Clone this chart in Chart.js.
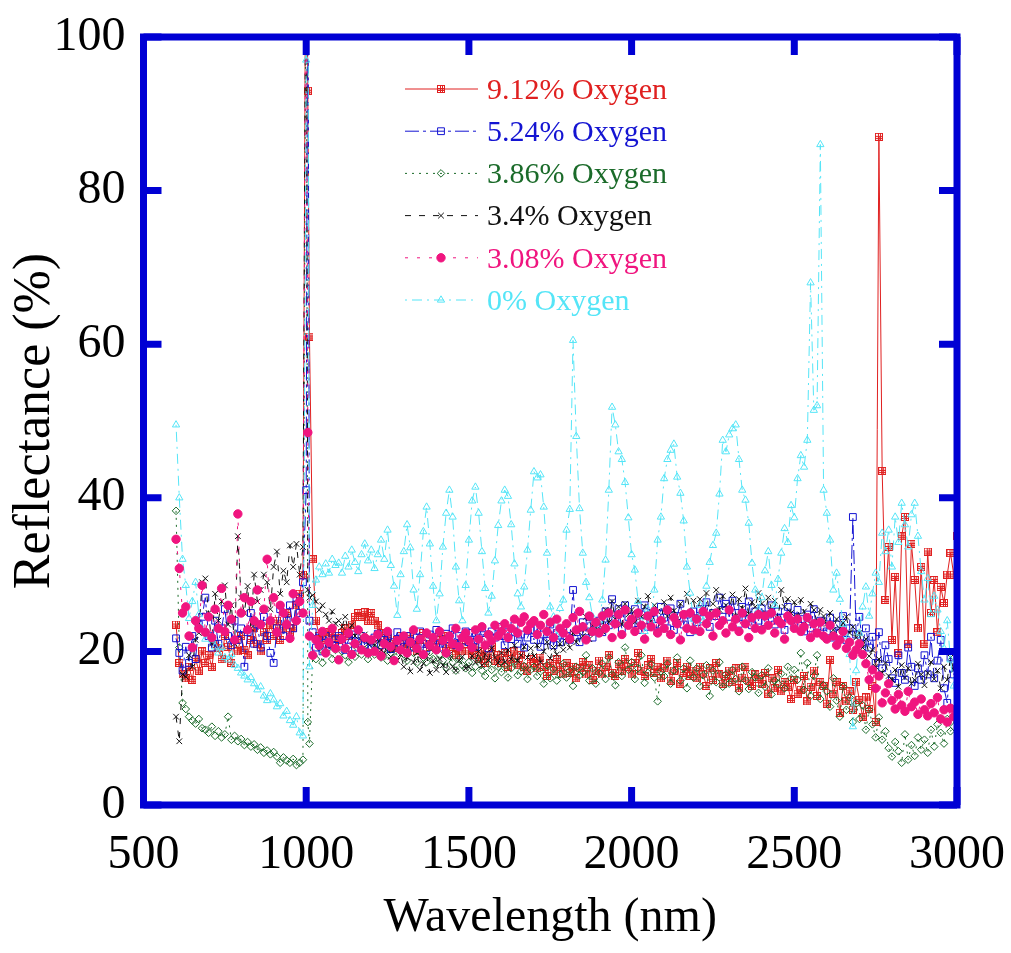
<!DOCTYPE html>
<html>
<head>
<meta charset="utf-8">
<script src="https://cdn.jsdelivr.net/npm/chart.js@4.4.1/dist/chart.umd.min.js"></script>
<style>
  html, body { margin: 0; padding: 0; background: #fff; }
  #wrap { width: 1011px; height: 953px; }
</style>
</head>
<body>
<div id="wrap"><canvas id="reflect-chart" width="1011" height="953"></canvas></div>
<script>
// wavelength grid (nm)
const wavelengths = [
  600, 610, 620, 630, 640, 650, 660, 670, 680, 690,
  700, 710, 720, 730, 740, 750, 760, 770, 780, 790,
  800, 810, 820, 830, 840, 850, 860, 870, 880, 890,
  900, 910, 920, 930, 940, 950, 960, 970, 980, 990,
  1000, 1005, 1010, 1020, 1030, 1040, 1050, 1060, 1070, 1080, 1090,
  1100, 1110, 1120, 1130, 1140, 1150, 1160, 1170, 1180, 1190,
  1200, 1210, 1220, 1230, 1240, 1250, 1260, 1270, 1280, 1290,
  1300, 1310, 1320, 1330, 1340, 1350, 1360, 1370, 1380, 1390,
  1400, 1410, 1420, 1430, 1440, 1450, 1460, 1470, 1480, 1490,
  1500, 1510, 1520, 1530, 1540, 1550, 1560, 1570, 1580, 1590,
  1600, 1610, 1620, 1630, 1640, 1650, 1660, 1670, 1680, 1690,
  1700, 1710, 1720, 1730, 1740, 1750, 1760, 1770, 1780, 1790,
  1800, 1810, 1820, 1830, 1840, 1850, 1860, 1870, 1880, 1890,
  1900, 1910, 1920, 1930, 1940, 1950, 1960, 1970, 1980, 1990,
  2000, 2010, 2020, 2030, 2040, 2050, 2060, 2070, 2080, 2090,
  2100, 2110, 2120, 2130, 2140, 2150, 2160, 2170, 2180, 2190,
  2200, 2210, 2220, 2230, 2240, 2250, 2260, 2270, 2280, 2290,
  2300, 2310, 2320, 2330, 2340, 2350, 2360, 2370, 2380, 2390,
  2400, 2410, 2420, 2430, 2440, 2450, 2460, 2470, 2480, 2490,
  2500, 2510, 2520, 2530, 2540, 2550, 2560, 2570, 2580, 2590,
  2600, 2610, 2620, 2630, 2640, 2650, 2660, 2670, 2680, 2690,
  2700, 2710, 2720, 2730, 2740, 2750, 2760, 2770, 2780, 2790,
  2800, 2810, 2820, 2830, 2840, 2850, 2860, 2870, 2880, 2890,
  2900, 2910, 2920, 2930, 2940, 2950, 2960, 2970, 2980, 2990,
  3000
];

// reflectance (%) per oxygen content
const oxy912 = [
  23.5, 18.5, 17, 16.5, 18, 16.3, 19, 17.5, 20, 18.5,
  19.5, 18, 21, 20.5, 19, 22, 20.6, 18.5, 21.5, 20,
  22, 20.2, 19.5, 21.5, 23, 21, 20, 22.5, 21.5, 23.5,
  22, 24, 21.5, 23, 25, 22.5, 23, 26, 27.5, 30,
  130, 93, 61, 32, 24, 22, 21.5, 22.5, 21, 22.4, 21.8,
  21.5, 22.4, 23, 22, 23.5, 24.5, 25, 24.5, 25.1, 24,
  25, 24, 23.4, 22.4, 21.5, 22, 21, 20.5, 21.5, 22,
  21, 20.5, 22, 21, 20, 21.5, 22.4, 21, 20.6, 21.5,
  20.5, 21.5, 22, 20, 21, 20.6, 19.5, 21, 20, 21.5,
  20, 19.5, 20.5, 19, 20, 18.5, 19.5, 20.6, 18.8, 19.5,
  18.5, 19.8, 18, 19, 20, 18.2, 19.5, 18, 17.5, 19,
  18.5, 17.8, 19.2, 18, 16.8, 18.5, 17.5, 19, 18, 17,
  18.5, 17.2, 18, 16.5, 17.8, 18.6, 17, 18.2, 16.3, 17.5,
  18.8, 17, 18, 19.5, 17.2, 16.8, 18.4, 17.5, 19, 18,
  17, 18.5, 19.8, 17.5, 16.8, 18.2, 19, 17.2, 18, 16.5,
  17.8, 18.8, 16.2, 17.5, 18.5, 15.8, 17.2, 18, 16.8, 17.5,
  16.5, 18, 17, 15.5, 17.8, 16.3, 18.5, 17, 15.8, 16.8,
  17.5, 16, 17.8, 15.2, 16.6, 18, 16.2, 15.5, 17, 16.4,
  15.8, 17.2, 14.5, 16.5, 15.2, 17.6, 14.8, 16, 15.4, 13.8,
  16.3, 14.5, 15, 16.8, 13.5, 15.4, 17.5, 14.2, 16, 15.5,
  13.2, 18.9, 14.5, 16, 12, 15.5, 13.5, 14.8, 12.4, 16,
  13.7, 11.5, 14, 12.5, 15.5, 10.8, 87, 43.5, 26.7, 33.6,
  21.5, 29.7, 19.8, 35, 37.5, 21, 34, 29.3, 23, 31,
  21, 33, 25, 29.3, 22.5, 28.4, 26.3, 30, 32.8, 30,
  35
];
const oxy524 = [
  21.7, 19.8, 17.5, 20.6, 18.5, 22, 19, 23.5, 24.5, 27,
  22, 20.5, 24, 21, 23, 25.5, 22, 20.8, 24, 21.5,
  23, 18, 22.5, 25, 21, 23.5, 20.5, 24.5, 22, 19.8,
  18.5, 23, 25.5, 22, 24, 26, 23, 27, 25, 29,
  41, 125, 24, 22.5, 20.5, 21.8, 20, 22, 21, 20.8, 21.6,
  22, 21, 20.2, 21.5, 22.2, 20.5, 21.3, 22, 20.8, 21.5,
  20.5, 21.8, 22.3, 20.8, 21.5, 22, 20.3, 21.2, 22.5, 21,
  20.6, 22, 21.4, 20.5, 21.8, 22.6, 21, 20.4, 22.2, 21.5,
  22.8, 21, 20.5, 22.3, 21.6, 23, 20.8, 22, 21.4, 22.6,
  21.2, 22.4, 20.6, 21.8, 23, 21.5, 20.4, 22.6, 21.8, 23.2,
  22, 20.8, 22.5, 21.6, 23.4, 21, 22.2, 20.5, 21.8, 22.8,
  21.5, 23, 20.6, 22.2, 21.4, 23.5, 20.8, 22.4, 21.2, 22.7,
  22, 21.5, 28, 22.5, 21.2, 23.8, 22.6, 24.5, 21.8, 23.2,
  24, 22.5, 25.2, 23.4, 26.8, 24.2, 25.5, 23, 26, 24.5,
  23.6, 25.5, 22.8, 24.8, 26, 23.2, 25, 24.2, 22.6, 25.8,
  24.4, 23, 25.6, 22.8, 24.6, 26.2, 23.5, 24.8, 22.5, 25.2,
  23.8, 25.5, 24.2, 26.4, 23.2, 25, 24.6, 27, 25.4, 26.2,
  24.5, 26.6, 25, 23.6, 25.8, 24.2, 26.5, 23.4, 25.2, 24,
  25.6, 23.8, 24.8, 26, 23.5, 25.2, 24.4, 22.8, 25.8, 24.6,
  23.6, 25.4, 24.2, 22.6, 24.8, 23, 25.5, 22.4, 24, 23.2,
  22.6, 24.4, 21.8, 23.5, 22.4, 24.6, 21.5, 23, 37.5, 22.2,
  24.5, 21, 23, 20.5, 21.9, 18.5, 22.5, 17.8, 20.8, 19,
  16.5, 15.9, 19.5, 17.2, 16.3, 20.5, 18, 15.5, 17.8, 16.3,
  19.5, 17, 21.9, 16.5, 18.8, 21.5, 15.2, 13.3, 19.2, 17,
  18
];
const oxy386 = [
  38.3, 20.5, 13.3, 12.5, 11.5, 11, 10.6, 11.2, 10, 9.8,
  9.4, 10.2, 9, 9.6, 8.8, 9.2, 11.5, 8.5, 9, 8.3,
  8.6, 7.8, 8.2, 7.6, 7.9, 7.2, 7.5, 6.8, 7.1, 6.6,
  6.9, 6.3, 5.5, 6.2, 5.8, 5.5, 6, 5.2, 5.5, 5.9,
  125, 10.8, 8, 19.5, 19, 20.5, 18.5, 19.8, 20.5, 19, 20.2,
  18.9, 20, 19.5, 18.6, 20.2, 19.3, 20.8, 19.6, 20.2, 19,
  20.5, 19.6, 21, 19.2, 20, 18.8, 19.8, 20.6, 19.4, 20.2,
  19.6, 18.8, 20.4, 19.8, 18.5, 20, 19.2, 18.6, 19.9, 19,
  18.4, 19.6, 18.8, 17.9, 19.4, 18.6, 17.5, 19, 18.2, 17.8,
  18.6, 17.2, 18, 19, 17.5, 16.8, 18.4, 17.6, 16.5, 18,
  17.3, 18.2, 16.6, 17.8, 18.6, 16.9, 17.4, 18.1, 16.4, 17.6,
  18, 16.8, 17.4, 15.8, 18.2, 16.5, 17.7, 16.2, 17, 18.4,
  16.6, 17.5, 15.5, 18, 16.9, 17.3, 19.5, 16.2, 17.8, 15.8,
  17.2, 18.4, 16.4, 19.2, 17, 15.6, 18.6, 16.8, 20.5, 17.6,
  18.6, 16.4, 17.8, 19.5, 15.9, 17.2, 18.3, 16.6, 13.5, 17.4,
  16.8, 18.4, 15.8, 17.5, 19.2, 16.2, 17.8, 15.2, 18.8, 16.6,
  17.8, 15.5, 16.9, 18.2, 14.2, 17.5, 16, 18.6, 15.4, 17,
  15.8, 17.6, 16.4, 14.8, 18, 16.2, 15.1, 17.3, 16.6, 14.6,
  16.9, 15.4, 17.8, 14.4, 16.2, 15.8, 17.1, 15.2, 18, 16.5,
  17.6, 16.3, 19.8, 15, 18.5, 14.2, 16.8, 19.5, 13.8, 15.6,
  14.8, 12.8, 16.5, 13.6, 11.5, 15.4, 12.4, 14, 10.8, 13.2,
  11.2, 13, 9.8, 12.4, 10.5, 8.8, 11.4, 8.5, 9.6, 7.4,
  6.3, 8.2, 7, 5.5, 9.2, 5.9, 7.8, 6.4, 8.8, 7.2,
  8.5, 6.8, 9.8, 7.6, 10.5, 9.4, 8, 11.2, 9.6, 10.2,
  10.8
];
const oxy340 = [
  11.5, 8.3, 17, 16.7, 19.5, 18, 21.5, 22.4, 29, 29.5,
  25, 21, 27.5, 24, 26.5, 28.6, 23.5, 26, 21, 35,
  27, 25, 28.5, 23, 30, 26.5, 28, 30, 29, 25.5,
  31, 33, 27.5, 30.5, 29, 33.8, 31, 34, 30, 33.6,
  125, 28, 27, 27.3, 26.5, 25.4, 26, 24.8, 24, 25.2, 23.6,
  24, 23.2, 24.5, 22.5, 23.4, 22, 22.8, 21.5, 22.2, 21,
  21.5, 20.8, 21.6, 20.2, 19.8, 21, 19.3, 20.4, 18.8, 19.6,
  18, 19.2, 17.4, 18.6, 19.8, 17.6, 18.4, 19.4, 17.2, 18.8,
  17.6, 19, 18.2, 17.3, 19.6, 18, 17.5, 18.8, 19.3, 17.8,
  18, 19.4, 18.6, 20, 18.2, 19.6, 18.8, 20.4, 19.2, 18.5,
  19.8, 18.6, 20.2, 19, 20.8, 18.8, 19.5, 20.6, 19.2, 20.4,
  19.4, 20.8, 18.6, 20, 21.2, 19.1, 20.5, 19.6, 21, 20.2,
  21.8, 20.5, 22.4, 21.2, 23, 22, 24.5, 21.6, 23.4, 22.8,
  24, 22.6, 25.4, 23.8, 26.5, 24.2, 25.8, 23.5, 26.2, 24.8,
  25.4, 23.8, 26.6, 24.5, 25.8, 27.2, 24, 26, 25.2, 23.6,
  26.4, 24.6, 27, 25.3, 23.8, 26.2, 24.8, 27.5, 25, 26.6,
  24.4, 26.8, 25.5, 27.6, 24.8, 26.2, 28, 25.4, 27.2, 26,
  25.2, 27.4, 24.6, 26.8, 25.6, 28.2, 24.9, 26.4, 25.8, 27.6,
  26.2, 24.8, 27, 25.5, 26.6, 24.2, 28, 25.8, 26.8, 25,
  26.4, 24.6, 26.7, 25.2, 24, 26.2, 25.4, 23.8, 25.4, 24.6,
  23.6, 25, 22.8, 24.2, 23, 23.7, 24.5, 22.4, 23.2, 21.8,
  22.4, 20.5, 21.6, 19.4, 20.2, 18, 19, 17.2, 18.5, 16.8,
  16.3, 17.6, 15.4, 18.2, 16.6, 17.8, 15.8, 16.3, 18.4, 17,
  15.6, 17.2, 18.6, 16.4, 17.5, 15.2, 18, 16.3, 19.2, 17.6,
  22.4
];
const oxy308 = [
  34.6, 30.8, 25, 25.8, 22, 20.5, 24, 23, 28.6, 22.5,
  24.5, 21.8, 25.5, 23, 28.2, 22.6, 26, 24.2, 21.5, 37.9,
  25, 27, 22.8, 26.5, 24, 28, 23.5, 25.5, 32, 24,
  27, 22.5, 26, 25, 23.5, 21.7, 27.5, 24, 26.5, 25,
  125, 48.5, 22, 19.5, 21.5, 20.8, 22.6, 19.8, 21.2, 23, 20.4,
  18.9, 21.6, 20.4, 22.4, 19.6, 21, 22.8, 20.2, 21.8, 19.8,
  21.5, 20, 22.2, 19.4, 21, 22.6, 20.6, 18.8, 21.4, 20.2,
  22, 19.8, 21.2, 22.8, 20.4, 21.6, 19.6, 22.4, 20.8, 21.8,
  20.2, 22.6, 21.4, 19.8, 22, 21, 23, 20.6, 21.8, 22.4,
  21.4, 20.5, 22.8, 21.6, 23.2, 20.8, 22.2, 21.4, 23.4, 22,
  22.6, 23.6, 21.8, 23, 24.2, 22.4, 23.8, 24.5, 22.8, 23.6,
  24, 22.2, 23.4, 24.8, 22.6, 23.8, 21.8, 24.2, 23, 22.4,
  23.6, 21.6, 24.4, 22.8, 25.2, 23.2, 21.5, 24.6, 22.6, 23.8,
  22.4, 24.6, 23, 25, 21.8, 23.6, 24.8, 22.2, 25.4, 23.4,
  24.2, 22.6, 25, 23.4, 21.6, 24.6, 23.2, 25.2, 22.4, 24,
  23, 25.4, 22.2, 24.4, 23.6, 21.5, 24.8, 23, 25, 22.8,
  24.2, 22.6, 25.2, 23.6, 24.6, 22, 25, 23.4, 24, 22.4,
  25.4, 23.2, 24.2, 22.6, 25, 23.6, 21.8, 24.4, 23, 24.8,
  22.8, 24.6, 23.4, 25, 22.4, 24, 23.6, 21.6, 24.6, 24,
  23, 24.2, 22.6, 23.2, 24.4, 21.8, 23.6, 22.4, 23.8, 22,
  21.6, 23.4, 22, 20.8, 21.5, 22.6, 20.4, 21.2, 19.5, 20.2,
  21, 19.6, 18.4, 16.3, 17.6, 15.2, 16.8, 13.3, 14.6, 15.8,
  13.6, 12.5, 14.4, 13, 12.2, 14.8, 12.8, 13.4, 11.8, 13.8,
  12.4, 11.6, 13.2, 12, 14, 11.2, 12.4, 10.8, 12.6, 11.5,
  12
];
const oxy000 = [
  49.5, 40, 32, 28.6, 24.3, 26.5, 29, 24.8, 23, 21.6,
  22.2, 21.5, 20.6, 19.8, 20.5, 19.2, 18.9, 19.6, 18.2, 17.8,
  17.2, 16.8, 16.3, 16.6, 15.8, 15, 15.4, 14.2, 13.6, 14.5,
  13.7, 12.8, 13.2, 11.6, 12.2, 11, 10.4, 11.5, 9.4, 9,
  97, 125, 18, 26, 29.3, 31, 30, 31.4, 30.2, 32, 31.2,
  31.5, 30.2, 32.4, 31, 33.2, 31.6, 30.4, 32.6, 34, 31.8,
  33.2, 30.8, 32.6, 34.5, 32, 35.8, 31.2, 28.5, 24.7, 30,
  33, 36.5, 33.5, 28, 25.5, 30, 35.6, 38.8, 34, 28.5,
  24, 27.5, 33.6, 38, 41, 37.5, 31, 26.6, 24, 28.6,
  34.5, 39.6, 41.4, 38, 33, 28.2, 25, 27.2, 31.8, 36.4,
  39.6, 41, 40.2, 36.5, 31.4, 27.5, 25.8, 28.4, 33.2, 38.4,
  43.4, 42.6, 43, 38.8, 32.8, 25.8, 24.5, 22, 25.6, 26.7,
  35.8, 38.5, 60.5, 48, 38.6, 32.8, 29, 27, 24.5, 22.4,
  24, 26.7, 31.9, 41, 51.8, 49.5, 46, 45, 42, 37.4,
  32.6, 30.6, 26.5, 23.8, 22.6, 25.5, 24, 28, 34.5, 37.5,
  42.5, 45, 46.2, 47, 42.7, 40.6, 37, 31, 27.6, 24.2,
  22.5, 26, 24, 28.5, 31.6, 33.8, 35.4, 40.5, 47.5, 46,
  48.2, 49, 49.5, 45, 41, 39.7, 36.7, 31.5, 28, 25.4,
  27, 30.5, 33, 28.6, 26, 29.4, 32.8, 36, 34.2, 39,
  37.4, 42.5, 45.5, 44, 47.5, 68, 51.4, 52, 86, 41,
  38, 34.5, 28, 30.2, 26.8, 23.5, 22, 19.6, 10.2, 17.5,
  22.4, 25.8, 28.4, 24.6, 27.5, 30.2, 29, 35.4, 33, 35.8,
  31, 37.5, 34.2, 39.3, 36.5, 33.6, 37.8, 39.3, 35, 30.4,
  26.7, 29.5, 24.8, 27.2, 25.4, 22.6, 20.4, 24, 18.9, 15.5,
  12.4
];

const seriesNames = ['9.12% Oxygen', '5.24% Oxygen', '3.86% Oxygen', '3.4% Oxygen', '3.08% Oxygen', '0% Oxygen'];
const xTicks = [500, 1000, 1500, 2000, 2500, 3000];
const yTicks = [0, 20, 40, 60, 80, 100];

const axisBlue = '#0000d4';
const serif = '"Liberation Serif", "Times New Roman", serif';

// red marker: small square with a grid inside
function gridSquare(color) {
  const c = document.createElement('canvas');
  c.width = 8; c.height = 8;
  const g = c.getContext('2d');
  g.strokeStyle = color;
  g.lineWidth = 1;
  g.strokeRect(0.5, 0.5, 7, 7);
  g.beginPath();
  g.moveTo(3.5, 0.5); g.lineTo(3.5, 7.5);
  g.moveTo(5.5, 0.5); g.lineTo(5.5, 7.5);
  g.moveTo(0.5, 3.5); g.lineTo(7.5, 3.5);
  g.moveTo(0.5, 5.5); g.lineTo(7.5, 5.5);
  g.stroke();
  return c;
}

function pts(vals) {
  return wavelengths.map((w, i) => ({ x: w, y: vals[i] }));
}

const clear = 'rgba(0,0,0,0)';
const datasets = [
  { label: seriesNames[0], data: pts(oxy912), borderColor: '#e02020', borderDash: [],
    pointStyle: gridSquare('#e02020'), pointRadius: 4, pointBackgroundColor: clear, pointBorderColor: '#e02020', order: 5 },
  { label: seriesNames[1], data: pts(oxy524), borderColor: '#1414d2', borderDash: [14, 4, 3, 4],
    pointStyle: 'rect', pointRadius: 4.8, pointBackgroundColor: clear, pointBorderColor: '#1414d2', order: 3 },
  { label: seriesNames[2], data: pts(oxy386), borderColor: '#1b6b2a', borderDash: [2, 5],
    pointStyle: 'rectRot', pointRadius: 3.8, pointBackgroundColor: clear, pointBorderColor: '#1b6b2a', order: 4 },
  { label: seriesNames[3], data: pts(oxy340), borderColor: '#111111', borderDash: [6, 8],
    pointStyle: 'crossRot', pointRadius: 4, pointBackgroundColor: clear, pointBorderColor: '#111111', order: 2 },
  { label: seriesNames[4], data: pts(oxy308), borderColor: '#f0157f', borderDash: [3, 9],
    pointStyle: 'circle', pointRadius: 4.2, pointBackgroundColor: '#f0157f', pointBorderColor: '#f0157f', order: 0 },
  { label: seriesNames[5], data: pts(oxy000), borderColor: '#55e5f7', borderDash: [2, 5, 10, 5],
    pointStyle: 'triangle', pointRadius: 4.2, pointBackgroundColor: clear, pointBorderColor: '#55e5f7', order: 1 }
];
datasets.forEach(d => { d.borderWidth = 1; d.pointBorderWidth = 1; d.fill = false; });

// blue frame with inward tick marks on all four sides
const framePlugin = {
  id: 'frame',
  afterDraw(chart) {
    const { ctx, chartArea: a, scales: { x, y } } = chart;
    ctx.save();
    ctx.strokeStyle = axisBlue;
    ctx.lineWidth = 7;
    ctx.setLineDash([]);
    ctx.strokeRect(a.left, a.top, a.right - a.left, a.bottom - a.top);
    ctx.beginPath();
    xTicks.forEach(v => {
      const px = x.getPixelForValue(v);
      ctx.moveTo(px, a.bottom); ctx.lineTo(px, a.bottom - 18);
      ctx.moveTo(px, a.top); ctx.lineTo(px, a.top + 18);
    });
    yTicks.forEach(v => {
      const py = y.getPixelForValue(v);
      ctx.moveTo(a.left, py); ctx.lineTo(a.left + 18, py);
      ctx.moveTo(a.right, py); ctx.lineTo(a.right - 18, py);
    });
    ctx.stroke();
    ctx.restore();
  }
};

// legend: line sample with marker, coloured label
const legendPlugin = {
  id: 'lineLegend',
  afterDraw(chart) {
    const ctx = chart.ctx;
    chart.data.datasets.forEach((ds, i) => {
      const yRow = 89 + i * 42.2;
      ctx.save();
      ctx.strokeStyle = ds.borderColor;
      ctx.lineWidth = 1;
      ctx.setLineDash(ds.borderDash);
      ctx.beginPath();
      ctx.moveTo(405, yRow);
      ctx.lineTo(478, yRow);
      ctx.stroke();
      ctx.setLineDash([]);
      ctx.fillStyle = ds.pointBackgroundColor;
      ctx.strokeStyle = ds.pointBorderColor;
      Chart.helpers.drawPoint(ctx, { pointStyle: ds.pointStyle, radius: ds.pointRadius, borderWidth: 1, rotation: 0 }, 441, yRow);
      ctx.fillStyle = ds.borderColor;
      ctx.font = '30px ' + serif;
      ctx.textBaseline = 'middle';
      ctx.fillText(ds.label, 487, yRow + 2);
      ctx.restore();
    });
  }
};

new Chart(document.getElementById('reflect-chart'), {
  type: 'line',
  data: { datasets },
  options: {
    responsive: false,
    animation: false,
    events: [],
    layout: { padding: { left: 0, right: 54, top: 37, bottom: 0 } },
    plugins: { legend: { display: false }, tooltip: { enabled: false } },
    scales: {
      x: {
        type: 'linear', min: 500, max: 3000,
        afterBuildTicks: s => { s.ticks = xTicks.map(v => ({ value: v })); },
        afterFit: s => { s.height = 148; s.paddingLeft = 0; s.paddingRight = 0; },
        grid: { display: false, drawTicks: false },
        border: { display: false },
        ticks: { color: '#000', padding: 22, font: { family: serif, size: 48 }, callback: v => String(v) },
        title: { display: true, text: 'Wavelength (nm)', color: '#000', padding: { top: 0, bottom: 6 }, font: { family: serif, size: 48 } }
      },
      y: {
        type: 'linear', min: 0, max: 100,
        afterBuildTicks: s => { s.ticks = yTicks.map(v => ({ value: v })); },
        afterFit: s => { s.width = 143.5; s.paddingTop = 0; s.paddingBottom = 0; },
        grid: { display: false, drawTicks: false },
        border: { display: false },
        ticks: { color: '#000', padding: 18, font: { family: serif, size: 48 }, callback: v => String(v) },
        title: { display: true, text: 'Reflectance (%)', color: '#000', padding: { top: 4, bottom: 0 }, font: { family: serif, size: 52 } }
      }
    }
  },
  plugins: [framePlugin, legendPlugin]
});
</script>
</body>
</html>
